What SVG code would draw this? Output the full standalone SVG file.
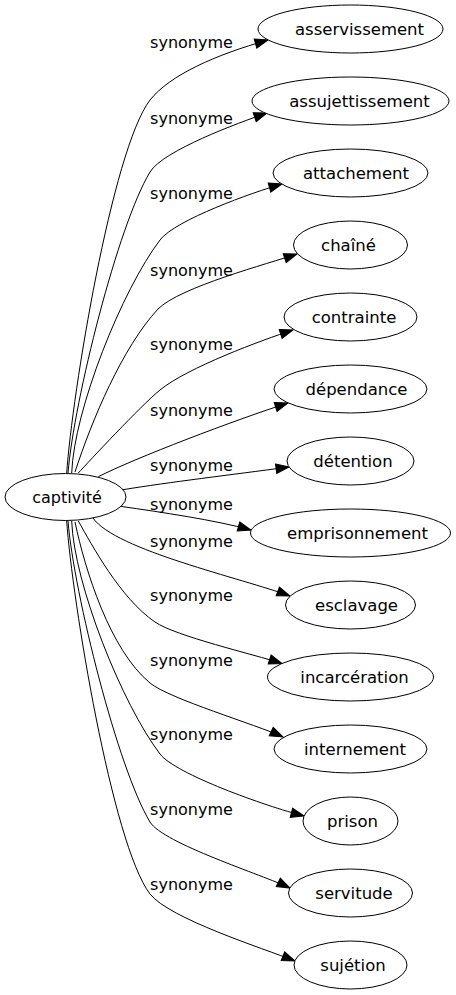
<svg xmlns="http://www.w3.org/2000/svg" width="456" height="995" viewBox="0 0 456 995">
<defs>
<style>
.node ellipse{fill:#fff;stroke:#000;stroke-width:1}
text{font-family:"DejaVu Sans","Liberation Sans",sans-serif;font-size:16px;fill:#000;text-anchor:middle}
.node text{font-size:16.5px}
.edge path{fill:none;stroke:#000;stroke-width:1}
</style>
<marker id="arr" viewBox="-1 -1 15 11.4" refX="13" refY="4.7" markerWidth="15" markerHeight="11.4" markerUnits="userSpaceOnUse" orient="auto" overflow="visible">
<path d="M0,0 L13,4.7 L0,9.4 Z" fill="#000" stroke="#000" stroke-width="1"/>
</marker>
</defs>
<rect width="456" height="995" fill="#fff"/>
<g id="edges" class="edge">
<path marker-end="url(#arr)" d="M66.7,473 C72,395 112,150 150,100 C170,75 215,55 268,40"/>
<path marker-end="url(#arr)" d="M68,473 C74,400 118,225 150,172 C163,150.6 238.6,122.7 267,113"/>
<path marker-end="url(#arr)" d="M71.7,473 C74,410 122,290 160,240 C175,220 253,192.2 282,184"/>
<path marker-end="url(#arr)" d="M75,472 C92,420 122,348 158,309 C180,287 268.6,263.6 297,254"/>
<path marker-end="url(#arr)" d="M78.3,473 C88.5,462 140.6,405.8 160,390 C187,367.8 262,340 293,330"/>
<path marker-end="url(#arr)" d="M98.3,476.7 C135,458 235,420 288,403"/>
<path marker-end="url(#arr)" d="M123,489.7 C170,482 230,475 289,467"/>
<path marker-end="url(#arr)" d="M121,506.4 C160,512 215,520 251,530"/>
<path marker-end="url(#arr)" d="M93,518 C115,550 243,578.5 290,596"/>
<path marker-end="url(#arr)" d="M78.3,521 C92,545 120,598 155,622 C175.6,636.2 253.5,654.2 282,663.5"/>
<path marker-end="url(#arr)" d="M75,522 C85,570 110,650 150,683 C169.3,698.9 255.8,724.4 283,737"/>
<path marker-end="url(#arr)" d="M71.7,521 C74,584 122,704 160,754 C175.1,773.9 265,806 304,816"/>
<path marker-end="url(#arr)" d="M68,521 C74,594 118,769 150,822 C163,843.4 263,875 290,888"/>
<path marker-end="url(#arr)" d="M66.7,521 C72,599 112,844 150,894 C170,919 262.5,948 295,961"/>
</g>
<g id="edge-labels">
<text x="191.5" y="47.5">synonyme</text>
<text x="191.5" y="123.5">synonyme</text>
<text x="191.5" y="198.5">synonyme</text>
<text x="191.5" y="275.5">synonyme</text>
<text x="191.5" y="350">synonyme</text>
<text x="191.5" y="416">synonyme</text>
<text x="191.5" y="470.5">synonyme</text>
<text x="191.5" y="509.5">synonyme</text>
<text x="191.5" y="546.5">synonyme</text>
<text x="191.5" y="601">synonyme</text>
<text x="191.5" y="666">synonyme</text>
<text x="191.5" y="739.5">synonyme</text>
<text x="191.5" y="815">synonyme</text>
<text x="191.5" y="889.5">synonyme</text>
</g>
<g id="captivite" class="node"><ellipse cx="65.5" cy="497" rx="60.5" ry="23.5"/><text x="67" y="502.5" style="font-size:16px">captivité</text></g>
<g id="asservissement" class="node"><ellipse cx="350.5" cy="29" rx="92.5" ry="24"/><text x="359.5" y="34.5">asservissement</text></g>
<g id="assujettissement" class="node"><ellipse cx="350.5" cy="101" rx="98.5" ry="24"/><text x="359.5" y="106.5">assujettissement</text></g>
<g id="attachement" class="node"><ellipse cx="350.5" cy="173" rx="77.5" ry="24"/><text x="356" y="178.5">attachement</text></g>
<g id="chaine" class="node"><ellipse cx="350.5" cy="245" rx="57" ry="24"/><text x="348.5" y="250.5">chaîné</text></g>
<g id="contrainte" class="node"><ellipse cx="350.5" cy="317" rx="66.5" ry="24"/><text x="354" y="322.5">contrainte</text></g>
<g id="dependance" class="node"><ellipse cx="350.5" cy="389" rx="76.5" ry="24"/><text x="356.5" y="394.5">dépendance</text></g>
<g id="detention" class="node"><ellipse cx="350.5" cy="461" rx="63.5" ry="24"/><text x="353" y="466.5">détention</text></g>
<g id="emprisonnement" class="node"><ellipse cx="350.5" cy="533" rx="100" ry="24"/><text x="357.5" y="538.5">emprisonnement</text></g>
<g id="esclavage" class="node"><ellipse cx="350.5" cy="605" rx="65" ry="24"/><text x="356.5" y="610.5">esclavage</text></g>
<g id="incarceration" class="node"><ellipse cx="350.5" cy="677" rx="83" ry="24"/><text x="354.5" y="682.5">incarcération</text></g>
<g id="internement" class="node"><ellipse cx="350.5" cy="749" rx="76.5" ry="24"/><text x="355" y="754.5">internement</text></g>
<g id="prison" class="node"><ellipse cx="350.5" cy="821" rx="47.5" ry="24"/><text x="352.5" y="826.5">prison</text></g>
<g id="servitude" class="node"><ellipse cx="350.5" cy="893" rx="62" ry="24"/><text x="354" y="898.5">servitude</text></g>
<g id="sujetion" class="node"><ellipse cx="350.5" cy="965" rx="56.5" ry="24"/><text x="353" y="970.5">sujétion</text></g>
</svg>
